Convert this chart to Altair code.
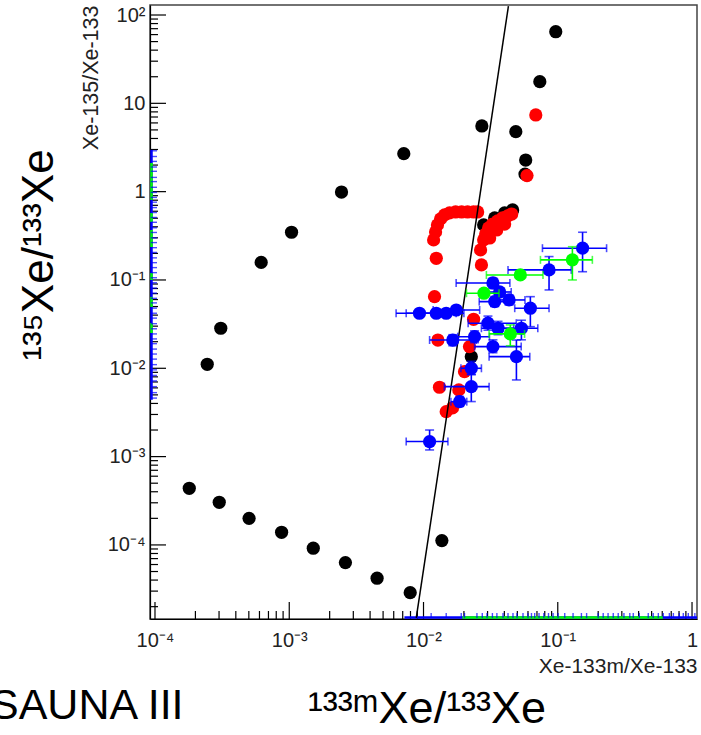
import altair as alt
import pandas as pd

# ---------------- data ----------------
XMIN, XMAX = 9.18e-5, 1.089
YMIN, YMAX = 1.45e-5, 129.8
W, H = 547, 614

black_x = [2.45e-4, 3.09e-4, 6.18e-4, 1.04e-3, 2.45e-3, 7.13e-3, 0.0272, 0.0487, 0.0735, 0.0966,
           0.0577, 0.0570, 0.0439, 0.0461, 0.0402, 0.0339, 0.02805, 0.0227,
           1.80e-4, 3.01e-4, 5.02e-4, 8.77e-4, 1.51e-3, 2.62e-3, 4.51e-3, 7.96e-3, 0.0137]
black_y = [0.0111, 0.0284, 0.158, 0.347, 0.99, 2.69, 5.54, 4.78, 17.6, 64.7,
           2.28, 1.58, 0.574, 0.621, 0.574, 0.504, 0.420, 0.0135,
           4.38e-4, 3.04e-4, 2.00e-4, 1.39e-4, 9.18e-5, 6.31e-5, 4.20e-5, 2.88e-5, 1.12e-4]

red_x = [0.01189, 0.01230, 0.0127, 0.0134, 0.01436, 0.01563, 0.01734, 0.01923, 0.02128, 0.0236, 0.0253,
         0.0266, 0.02805, 0.02904, 0.03055, 0.03273, 0.03565, 0.0389, 0.0424, 0.0454, 0.0311, 0.0351, 0.0402,
         0.01245, 0.0270, 0.01208, 0.0236, 0.0128, 0.0220, 0.0202, 0.01315, 0.01832, 0.01476, 0.01644,
         0.0686, 0.0590]
red_y = [0.284, 0.350, 0.420, 0.491, 0.545, 0.574, 0.589, 0.589, 0.589, 0.589, 0.589,
         0.219, 0.284, 0.332, 0.388, 0.430, 0.466, 0.504, 0.531, 0.558, 0.299, 0.368, 0.430,
         0.176, 0.148, 0.0647, 0.0359, 0.0209, 0.0176, 0.00916, 0.0061, 0.00569, 0.00323, 0.00356,
         7.38, 1.52]

blue_x   = [0.153, 0.0861, 0.0434, 0.0625, 0.0536, 0.0329, 0.0369, 0.00933, 0.01245, 0.01476, 0.01754,
            0.0302, 0.0359, 0.0339, 0.01652, 0.0240, 0.0329, 0.0492, 0.0227, 0.0227, 0.01858, 0.0111]
blue_y   = [0.229, 0.130, 0.0594, 0.0479, 0.0284, 0.0925, 0.0731, 0.042, 0.042, 0.042, 0.0457,
            0.0324, 0.0284, 0.0569, 0.0209, 0.0228, 0.0176, 0.01355, 0.0100, 0.0062, 0.00419, 0.00148]
blue_xlo = [0.0769, 0.0426, 0.033, 0.0478, 0.039, 0.0175, 0.030, 0.00625, 0.00743, 0.0095, 0.0118,
            0.0215, 0.027, 0.026, 0.0111, 0.018, 0.024, 0.0308, 0.019, 0.0143, 0.016, 0.00743]
blue_xhi = [0.231, 0.126, 0.057, 0.0861, 0.071, 0.044, 0.045, 0.0125, 0.0175, 0.020, 0.0262,
            0.0491, 0.047, 0.045, 0.0247, 0.031, 0.0534, 0.0619, 0.027, 0.0308, 0.021, 0.0152]
blue_ylo = [0.124, 0.0771, 0.052, 0.0296, 0.021, 0.080, 0.066, 0.039, 0.039, 0.039, 0.042,
            0.027, 0.024, 0.050, 0.018, 0.0195, 0.015, 0.00738, 0.0085, 0.0042, 0.0037, 0.00119]
blue_yhi = [0.347, 0.184, 0.068, 0.0647, 0.035, 0.105, 0.081, 0.045, 0.045, 0.045, 0.049,
            0.039, 0.034, 0.065, 0.024, 0.0265, 0.021, 0.0209, 0.012, 0.0085, 0.0048, 0.0020]

green_x   = [0.1285, 0.0526, 0.0282, 0.0443]
green_y   = [0.169, 0.114, 0.0708, 0.0245]
green_xlo = [0.0743, 0.0294, 0.0209, 0.0308]
green_xhi = [0.181, 0.0776, 0.0365, 0.0566]
green_ylo = [0.100, 0.105, 0.066, 0.018]
green_yhi = [0.238, 0.124, 0.076, 0.031]

line_x = [0.00883, 0.0429]
line_y = [1.49e-5, 126.0]

# off-scale error bars drawn along the left and bottom frame
left_blue_lo, left_blue_hi = [0.0044], [2.97]
left_green_lo = [0.806, 0.454, 0.236, 0.100, 0.0495, 0.0251]
left_green_hi = [2.11, 0.574, 0.368, 0.120, 0.0643, 0.0326]
left_caps = [2.9, 2.5, 2.2, 1.9, 1.7, 1.45, 1.3, 1.12, 0.98, 0.86, 0.76, 0.66, 0.58, 0.51, 0.45, 0.39,
             0.345, 0.30, 0.265, 0.232, 0.205, 0.178, 0.157, 0.138, 0.121, 0.106, 0.093, 0.081, 0.071,
             0.062, 0.055, 0.048, 0.042, 0.037, 0.032, 0.028, 0.0245, 0.0215, 0.019, 0.0165, 0.0145,
             0.0127, 0.011, 0.0096, 0.0083, 0.0072, 0.0062, 0.0053, 0.0046]
bottom_blue_lo, bottom_blue_hi = [0.00721], [XMAX]
bottom_green_lo, bottom_green_hi = [0.0195], [0.608]
bottom_caps = [0.0114, 0.01476, 0.0191, 0.0202, 0.0250, 0.0274, 0.0297, 0.0326, 0.0352, 0.0391, 0.0426,
               0.0464, 0.0497, 0.0551, 0.0600, 0.0637, 0.0673, 0.0725, 0.0787, 0.0853, 0.0923, 0.1005,
               0.1127, 0.130, 0.150, 0.164, 0.200, 0.218, 0.237, 0.259, 0.282, 0.311, 0.344, 0.365,
               0.405, 0.472, 0.514, 0.561, 0.611, 0.678, 0.726, 0.804, 0.861, 0.938, 1.05]

x_major = [1e-4, 1e-3, 1e-2, 1e-1, 1.0]
y_major = [1e-4, 1e-3, 1e-2, 1e-1, 1.0, 10.0, 100.0]
x_minor = [m * 10.0 ** e for e in range(-5, 1) for m in range(2, 10) if XMIN < m * 10.0 ** e < XMAX]
y_minor = [m * 10.0 ** e for e in range(-5, 3) for m in range(2, 10) if YMIN < m * 10.0 ** e < YMAX]

# ---------------- chart ----------------
FONT = "Liberation Sans"
xs = alt.Scale(type="log", domain=[XMIN, XMAX], nice=False)
ys = alt.Scale(type="log", domain=[YMIN, YMAX], nice=False)

E = "round(log(datum.value)/LN10)"
lab = (f"{E}==-4?'10⁻⁴':{E}==-3?'10⁻³':{E}==-2?'10⁻²':{E}==-1?'10⁻¹':"
       f"{E}==0?'1':{E}==1?'10':'10²'")

x_axis = alt.Axis(values=x_major, labelExpr=lab, ticks=False, tickSize=0, grid=False,
                  domain=True, domainColor="black", domainWidth=1.2,
                  labelFont=FONT, labelFontSize=20, labelColor="#222", labelPadding=11,
                  labelFlush=False, labelOverlap=False,
                  title="Xe-133m/Xe-133", titleFont=FONT, titleFontSize=21, titleFontWeight="normal",
                  titleColor="#222", titleAnchor="end", titlePadding=5)
y_axis = alt.Axis(values=y_major, labelExpr=lab, ticks=False, tickSize=0, grid=False,
                  domain=True, domainColor="black", domainWidth=1.2,
                  labelFont=FONT, labelFontSize=20, labelColor="#222", labelPadding=5,
                  labelFlush=False, labelOverlap=False,
                  title="Xe-135/Xe-133", titleFont=FONT, titleFontSize=21.5, titleFontWeight="normal",
                  titleColor="#222", titleAnchor="end", titlePadding=5)


def X(f):
    return alt.X(f, scale=xs, axis=x_axis)


def Y(f):
    return alt.Y(f, scale=ys, axis=y_axis)


def pts(xv, yv, color):
    df = pd.DataFrame({"x": xv, "y": yv})
    return alt.Chart(df).mark_point(filled=True, shape="circle", size=175, opacity=1,
                                    color=color, clip=True).encode(x=X("x:Q"), y=Y("y:Q"))


def errs(xv, yv, xlo, xhi, ylo, yhi, color):
    df = pd.DataFrame({"x": xv, "y": yv, "xlo": xlo, "xhi": xhi, "ylo": ylo, "yhi": yhi})
    base = alt.Chart(df)
    hx = base.mark_rule(color=color, strokeWidth=1.6, clip=True).encode(
        x=X("xlo:Q"), x2="xhi:Q", y=Y("y:Q"))
    vy = base.mark_rule(color=color, strokeWidth=1.6, clip=True).encode(
        y=Y("ylo:Q"), y2="yhi:Q", x=X("x:Q"))
    c1 = base.mark_tick(color=color, orient="vertical", size=8, thickness=1.6, clip=True).encode(
        x=X("xlo:Q"), y=Y("y:Q"))
    c2 = base.mark_tick(color=color, orient="vertical", size=8, thickness=1.6, clip=True).encode(
        x=X("xhi:Q"), y=Y("y:Q"))
    c3 = base.mark_tick(color=color, orient="horizontal", size=9, thickness=1.6, clip=True).encode(
        x=X("x:Q"), y=Y("ylo:Q"))
    c4 = base.mark_tick(color=color, orient="horizontal", size=9, thickness=1.6, clip=True).encode(
        x=X("x:Q"), y=Y("yhi:Q"))
    return [hx, vy, c1, c2, c3, c4]


# inner ticks
ymaj = alt.Chart(pd.DataFrame({"v": y_major})).mark_rule(color="black", strokeWidth=1.2).encode(
    y=Y("v:Q"), x=alt.value(0), x2=alt.value(16))
ymin_ = alt.Chart(pd.DataFrame({"v": y_minor})).mark_rule(color="black", strokeWidth=1.2).encode(
    y=Y("v:Q"), x=alt.value(0), x2=alt.value(8))
xmaj = alt.Chart(pd.DataFrame({"v": x_major})).mark_rule(color="black", strokeWidth=1.2).encode(
    x=X("v:Q"), y=alt.value(H), y2=alt.value(H - 17))
xmin_ = alt.Chart(pd.DataFrame({"v": x_minor})).mark_rule(color="black", strokeWidth=1.2).encode(
    x=X("v:Q"), y=alt.value(H), y2=alt.value(H - 8))

# off-scale artifacts
lb = alt.Chart(pd.DataFrame({"lo": left_blue_lo, "hi": left_blue_hi})).mark_rule(
    color="#0000ff", strokeWidth=2.5, clip=True).encode(y=Y("lo:Q"), y2="hi:Q", x=alt.value(1.5))
lg = alt.Chart(pd.DataFrame({"lo": left_green_lo, "hi": left_green_hi})).mark_rule(
    color="#00ff00", strokeWidth=2.5, clip=True).encode(y=Y("lo:Q"), y2="hi:Q", x=alt.value(1.5))
lc = alt.Chart(pd.DataFrame({"v": left_caps})).mark_tick(
    color="#0000ff", orient="horizontal", size=6, thickness=1.4, clip=True).encode(
    y=Y("v:Q"), x=alt.value(4))
bb = alt.Chart(pd.DataFrame({"lo": bottom_blue_lo, "hi": bottom_blue_hi})).mark_rule(
    color="#0000ff", strokeWidth=2.5, clip=True).encode(x=X("lo:Q"), x2="hi:Q", y=alt.value(H - 1.5))
bg = alt.Chart(pd.DataFrame({"lo": bottom_green_lo, "hi": bottom_green_hi})).mark_rule(
    color="#00ff00", strokeWidth=2.5, clip=True).encode(x=X("lo:Q"), x2="hi:Q", y=alt.value(H - 1.5))
bc = alt.Chart(pd.DataFrame({"v": bottom_caps})).mark_tick(
    color="#0000ff", orient="vertical", size=5, thickness=1.4, clip=True).encode(
    x=X("v:Q"), y=alt.value(H - 3.5))

line = alt.Chart(pd.DataFrame({"x": line_x, "y": line_y})).mark_line(
    color="black", strokeWidth=1.5, clip=True).encode(x=X("x:Q"), y=Y("y:Q"))

# outer annotation texts
t_left = alt.Chart(pd.DataFrame({"t": ["¹³⁵Xe/¹³³Xe"]})).mark_text(
    font=FONT, fontSize=44, angle=270, align="center", baseline="middle", color="black").encode(
    text="t:N", x=alt.value(-110), y=alt.value(250))
t_bottom = alt.Chart(pd.DataFrame({"t": ["¹³³ᵐXe/¹³³Xe"]})).mark_text(
    font=FONT, fontSize=45, align="center", baseline="alphabetic", color="black").encode(
    text="t:N", x=alt.value(277), y=alt.value(718))
t_sauna = alt.Chart(pd.DataFrame({"t": ["SAUNA III"]})).mark_text(
    font=FONT, fontSize=43, align="left", baseline="alphabetic", color="black").encode(
    text="t:N", x=alt.value(-160), y=alt.value(714))

layers = [ymaj, ymin_, xmaj, xmin_, lb, lg, lc, bb, bg, bc,
          pts(black_x, black_y, "black"), pts(red_x, red_y, "#ff0000"), line]
layers += errs(blue_x, blue_y, blue_xlo, blue_xhi, blue_ylo, blue_yhi, "#0000ff")
layers += [pts(blue_x, blue_y, "#0000ff")]
layers += errs(green_x, green_y, green_xlo, green_xhi, green_ylo, green_yhi, "#00ff00")
layers += [pts(green_x, green_y, "#00ff00"), t_left, t_bottom, t_sauna]

chart = alt.layer(*layers).properties(
    width=W, height=H,
    padding={"left": 150, "top": 5, "right": 4, "bottom": 116},
    autosize=alt.AutoSizeParams(type="none"),
    background="white",
).configure_view(stroke="#444", strokeWidth=1.5)

chart.save("out.html", embed_options={"renderer": "svg", "actions": False})
